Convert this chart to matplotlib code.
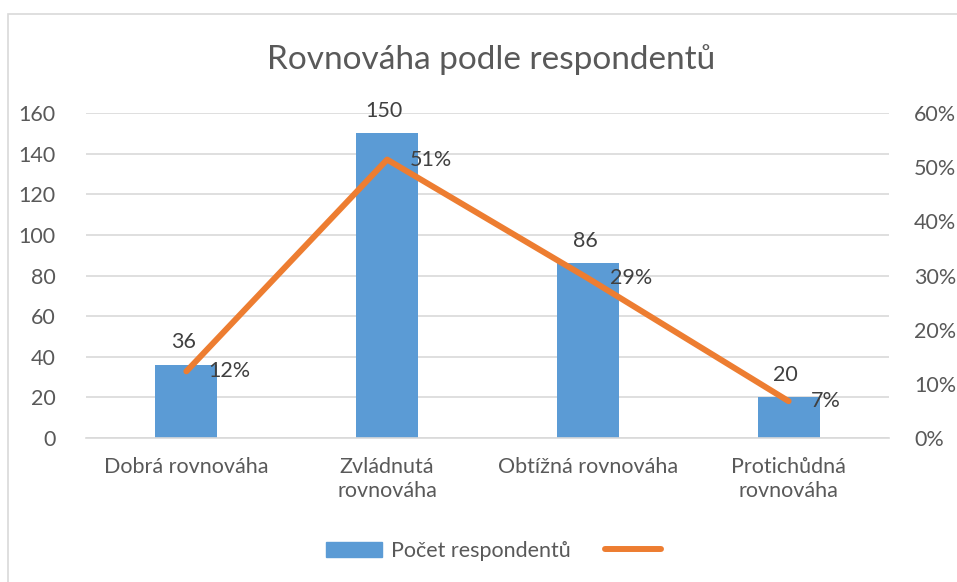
import matplotlib
matplotlib.use("Agg")
import matplotlib.pyplot as plt
from matplotlib.patches import Rectangle
from matplotlib.lines import Line2D
from matplotlib.ticker import FuncFormatter

categories = ["Dobrá rovnováha", "Zvládnutá\nrovnováha", "Obtížná rovnováha", "Protichůdná\nrovnováha"]
counts = [36, 150, 86, 20]
shares = [0.123, 0.514, 0.295, 0.068]
share_labels = ["12%", "51%", "29%", "7%"]
left_ticks = [0, 20, 40, 60, 80, 100, 120, 140, 160]
right_ticks = [0, 0.1, 0.2, 0.3, 0.4, 0.5, 0.6]

plt.rcParams['font.family'] = ['Lato', 'DejaVu Sans']
txt = '#595959'
bar_c = '#5b9bd5'
line_c = '#ed7d31'
grid_c = '#d9d9d9'
fs = 15.5

fig = plt.figure(figsize=(9.57, 5.82), dpi=100)
fig.patches.append(Rectangle((8/957, -0.1), 1.1, (582-14)/582 + 0.1, transform=fig.transFigure,
                             fill=False, edgecolor='#d9d9d9', linewidth=1.2))

ax = fig.add_axes([86/957, (582-438)/582, (889-86)/957, (438-113)/582])
x = list(range(len(categories)))
ax.bar(x, counts, width=0.31, color=bar_c, zorder=2, label="Počet respondentů")
ax.set_ylim(0, 160)
ax.set_xlim(-0.5, 3.5)
ax.set_yticks(left_ticks)
ax.yaxis.grid(True, color=grid_c, linewidth=1.2, zorder=0)
ax.set_axisbelow(True)
for s in ax.spines.values():
    s.set_visible(False)
ax.spines['bottom'].set_visible(True)
ax.spines['bottom'].set_color(grid_c)
ax.spines['bottom'].set_linewidth(1.2)
ax.tick_params(axis='both', length=0, labelsize=fs, colors=txt)
ax.tick_params(axis='y', pad=22)
ax.set_xticks(x)
ax.set_xticklabels(categories, fontsize=fs, color=txt, linespacing=1.2)
ax.tick_params(axis='x', pad=14)

for xi, v in zip(x, counts):
    ax.annotate(str(v), (xi, v), xytext=(-2, 9), textcoords='offset points',
                ha='center', va='bottom', fontsize=fs, color='#404040')

ax2 = ax.twinx()
ax2.plot(x, shares, color=line_c, linewidth=4.3, solid_capstyle='round', zorder=3)
ax2.set_ylim(0, 0.6)
ax2.set_yticks(right_ticks)
ax2.yaxis.set_major_formatter(FuncFormatter(lambda v, p: f"{round(v*100)}%"))
ax2.tick_params(axis='y', length=0, labelsize=fs, colors=txt, pad=18)
for s in ax2.spines.values():
    s.set_visible(False)
for xi, v, lab in zip(x, shares, share_labels):
    ax2.annotate(lab, (xi, v), xytext=(16, 0), textcoords='offset points',
                 ha='left', va='center', fontsize=fs, color='#404040')

fig.text(491/957, (582-60)/582, "Rovnováha podle respondentů", ha='center', va='center',
         fontsize=24, color=txt)

handles = [Rectangle((0, 0), 1, 1, color=bar_c), Line2D([0], [0], color=line_c, linewidth=4.3, solid_capstyle='round')]
fig.legend(handles, ["Počet respondentů", ""], loc='center', bbox_to_anchor=(0.52, (582-551)/582),
           ncol=2, frameon=False, fontsize=fs, labelcolor=txt, handlelength=2.6, columnspacing=1.6,
           handletextpad=0.4)

fig.savefig("out.png", dpi=100)
